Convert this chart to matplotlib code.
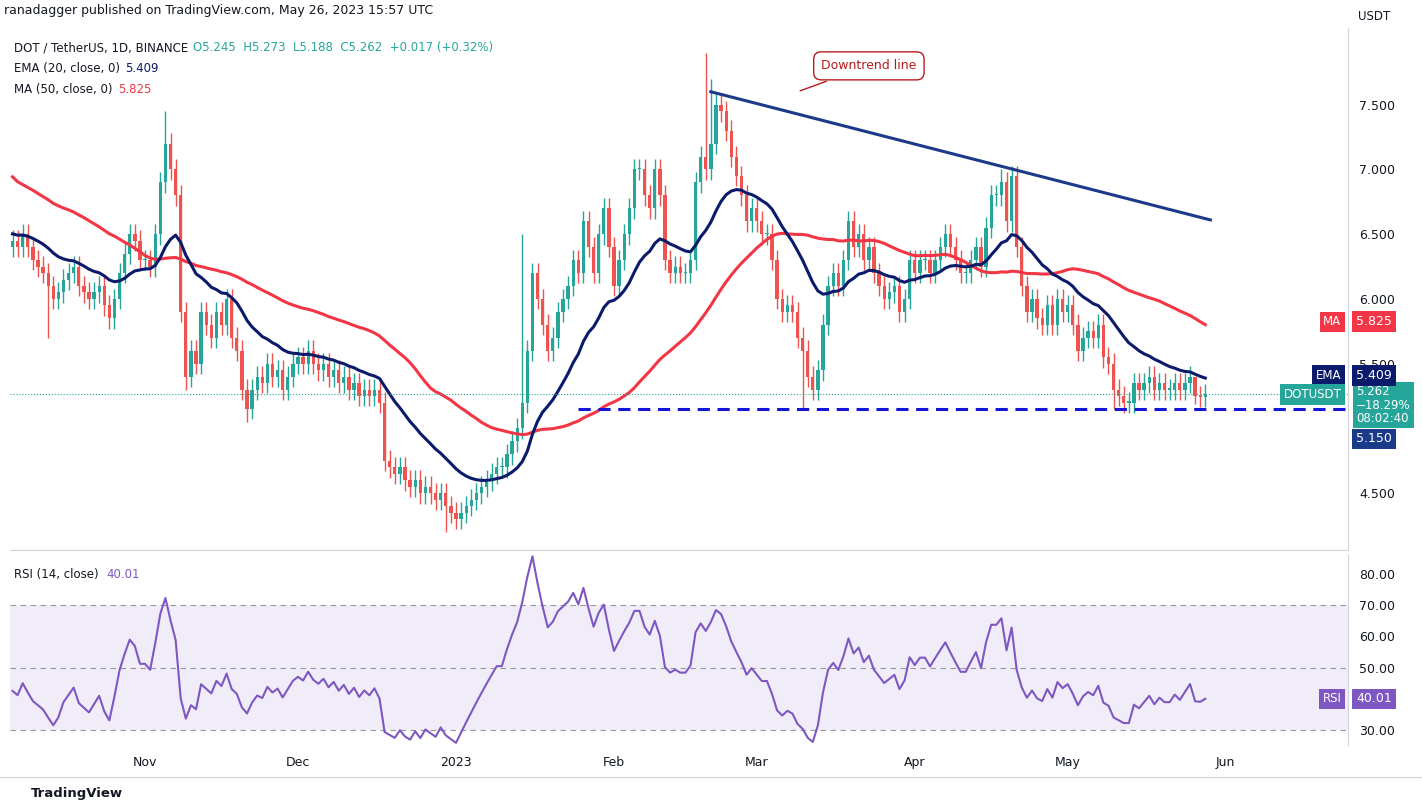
import numpy as np
import pandas as pd
import matplotlib
matplotlib.use("Agg")
import matplotlib.pyplot as plt
import matplotlib.dates as mdates

plt.rcParams['font.family'] = ['DejaVu Sans']

# closes before the visible window (only feed the moving averages / RSI)
pre_closes = [8.5, 8.3, 7.6, 7.5, 7.4, 7.5, 7.4, 7.3, 7.4, 7.0, 7.0, 6.9, 7.1, 7.2, 7.1,
              7.2, 7.3, 7.2, 7.3, 7.2, 6.9, 7.4, 7.5, 7.6, 7.7, 7.6, 7.8, 7.2, 7.0, 6.8,
              6.9, 6.8, 6.7, 6.5, 6.4, 6.2, 6.4, 6.3, 6.3, 6.2, 6.3, 6.4, 6.4, 6.4, 6.4,
              6.3, 6.3, 6.2, 6.5, 6.4]
# visible daily closes, Oct 6 2022 .. May 26 2023
closes = [
    6.45, 6.4, 6.5, 6.4, 6.3, 6.25, 6.2, 6.1, 6.0, 6.05, 6.15, 6.2, 6.25, 6.1, 6.05, 6.0,
    6.05, 6.1, 5.95, 5.85, 6.0, 6.2, 6.35, 6.5, 6.45, 6.3,
    6.3, 6.25, 6.5, 6.9, 7.2, 7.0, 6.8, 5.9, 5.4, 5.6, 5.5, 5.9, 5.8, 5.7, 5.9, 5.8, 6.0,
    5.7, 5.6, 5.3, 5.15, 5.3, 5.4, 5.35, 5.5, 5.4, 5.45, 5.3, 5.4, 5.5, 5.55, 5.5,
    5.6, 5.5, 5.45, 5.5, 5.4, 5.45, 5.35, 5.4, 5.3, 5.35, 5.25, 5.3, 5.25, 5.3, 5.2, 4.75,
    4.7, 4.65, 4.7, 4.6, 4.55, 4.6, 4.5, 4.55, 4.5, 4.45, 4.5, 4.4, 4.35, 4.3, 4.35,
    4.4, 4.45, 4.5, 4.55, 4.6, 4.65, 4.7, 4.7, 4.8, 4.9, 5.0, 5.2, 5.6, 6.2, 6.0, 5.8,
    5.6, 5.7, 5.9, 6.0, 6.1, 6.3, 6.2, 6.6, 6.4, 6.2, 6.5, 6.7, 6.4, 6.1, 6.3,
    6.5, 6.7, 7.0, 7.0, 6.8, 6.7, 7.0, 6.8, 6.3, 6.2, 6.25, 6.2, 6.2, 6.3, 6.9, 7.1, 7.0,
    7.2, 7.5, 7.45, 7.3, 7.1, 6.95, 6.8, 6.6, 6.7, 6.6, 6.5,
    6.5, 6.3, 6.0, 5.9, 5.95, 5.9, 5.7, 5.6, 5.4, 5.3, 5.45, 5.8, 6.1, 6.2, 6.1, 6.3, 6.6,
    6.4, 6.5, 6.3, 6.4, 6.2, 6.1, 6.0, 6.05, 6.1, 5.9, 6.0, 6.3, 6.2, 6.3,
    6.3, 6.2, 6.3, 6.4, 6.5, 6.4, 6.3, 6.2, 6.2, 6.3, 6.4, 6.25, 6.55, 6.8, 6.8, 6.9, 6.6,
    6.95, 6.4, 6.1, 5.9, 6.0, 5.85, 5.8, 5.95, 5.8, 6.0, 5.9, 5.95, 5.8,
    5.6, 5.7, 5.75, 5.7, 5.8, 5.55, 5.5, 5.3, 5.25, 5.2, 5.2, 5.35, 5.3, 5.35, 5.4, 5.3,
    5.35, 5.3, 5.3, 5.35, 5.3, 5.35, 5.4, 5.25, 5.245, 5.262]
# notable wick extremes
wick_highs = {"2022-11-05": 7.45, "2023-02-19": 7.9, "2023-02-20": 7.7, "2023-04-18": 7.0,
              "2023-01-14": 6.5, "2023-05-26": 5.273}
wick_lows = {"2022-10-13": 5.7, "2022-11-09": 5.3, "2022-12-30": 4.2, "2023-03-10": 5.15,
             "2023-05-10": 5.15, "2023-05-26": 5.188, "2022-11-21": 5.05}
default_wick = 0.08

dates = pd.date_range("2022-10-06", periods=len(closes), freq="D")
all_c = pd.Series(pre_closes + closes)
ema20 = all_c.ewm(span=20, adjust=False).mean().values[len(pre_closes):]
ma50 = all_c.rolling(50, min_periods=1).mean().values[len(pre_closes):]
delta = all_c.diff()
gain = delta.clip(lower=0).ewm(alpha=1 / 14, adjust=False).mean()
loss = (-delta.clip(upper=0)).ewm(alpha=1 / 14, adjust=False).mean()
rsi = (100 - 100 / (1 + gain / loss)).values[len(pre_closes):]

opens = [pre_closes[-1]] + closes[:-1]
opens[-1] = 5.245

UP, DN = '#26a69a', '#ef5350'
fig = plt.figure(figsize=(14.22, 8.09), dpi=100)
ax = fig.add_axes([0.007, 0.32, 0.941, 0.645])
ax2 = fig.add_axes([0.007, 0.079, 0.941, 0.235], sharex=ax)

x = mdates.date2num(dates)
for xi, d, o, c in zip(x, dates, opens, closes):
    key = d.strftime("%Y-%m-%d")
    hi = wick_highs.get(key, max(o, c) + default_wick)
    lo = wick_lows.get(key, min(o, c) - default_wick)
    col = UP if c >= o else DN
    ax.vlines(xi, lo, hi, color=col, lw=1)
    ax.bar(xi, max(abs(c - o), 0.01), bottom=min(o, c), width=0.65, color=col)

ax.plot(x, ma50, color='#f23645', lw=2.2)
ax.plot(x, ema20, color='#0c1a6b', lw=2.2)

xmin = mdates.date2num(pd.Timestamp("2022-10-06")) - 0.5
xmax = mdates.date2num(pd.Timestamp("2023-06-25"))
ax.set_xlim(xmin, xmax)
ax.set_ylim(4.06, 8.09)

# support and downtrend lines
ax.plot([mdates.date2num(pd.Timestamp("2023-01-25")), xmax], [5.15, 5.15],
        color='#1515d8', lw=2.2, ls=(0, (4, 2.5)))
ax.plot(mdates.date2num(pd.to_datetime(["2023-02-20", "2023-05-29"])), [7.6, 6.61],
        color='#1c3a8a', lw=2.2)
ax.axhline(5.262, color=UP, lw=0.8, ls=':')
ax.annotate("Downtrend line", xy=(mdates.date2num(pd.Timestamp("2023-03-09")), 7.6),
            xytext=(mdates.date2num(pd.Timestamp("2023-03-23")), 7.8), fontsize=9,
            ha='center', va='center', color='#b71c1c',
            bbox=dict(boxstyle='round,pad=0.6', fc='white', ec='#b71c1c', lw=1),
            arrowprops=dict(arrowstyle='-', color='#b71c1c', lw=1))

yt = [4.5, 5.5, 6.0, 6.5, 7.0, 7.5]
ax.set_yticks(yt)
ax.set_yticklabels([f"{v:.3f}" for v in yt])
ax.yaxis.tick_right()
ax.tick_params(axis='y', length=0, labelsize=9, colors='#131722', pad=8)
ax.tick_params(axis='x', length=0, labelbottom=False)
for s in ax.spines.values():
    s.set_visible(False)
ax.spines['right'].set_visible(True)
ax.spines['right'].set_color('#d1d4dc')
ax.spines['bottom'].set_visible(True)
ax.spines['bottom'].set_color('#d1d4dc')

def tag(a, y, txt, fc):
    a.text(1.006, y, txt, transform=a.get_yaxis_transform(), fontsize=9, color='white',
           va='center', ha='left', zorder=10,
           bbox=dict(boxstyle='square,pad=0.3', fc=fc, ec='none'))

tag(ax, 5.825, "5.825", '#f23645')
tag(ax, 5.409, "5.409", '#0c1a6b')
ax.text(1.006, 5.18, "5.262\n−18.29%\n08:02:40", transform=ax.get_yaxis_transform(),
        fontsize=8.5, color='white', va='center', ha='left', linespacing=1.05,
        bbox=dict(boxstyle='square,pad=0.25', fc=UP, ec='none'))
tag(ax, 4.92, "5.150", '#1c3a8a')
for y, t, fc in [(5.825, "MA", '#f23645'), (5.409, "EMA", '#0c1a6b'), (5.262, "DOTUSDT", UP)]:
    ax.text(0.995, y, t, transform=ax.get_yaxis_transform(), fontsize=8.5, color='white',
            va='center', ha='right', bbox=dict(boxstyle='square,pad=0.3', fc=fc, ec='none'))

fig.text(0.003, 0.983, "ranadagger published on TradingView.com, May 26, 2023 15:57 UTC",
         fontsize=9, color='#131722')
ax.text(0.003, 0.975, "DOT / TetherUS, 1D, BINANCE", transform=ax.transAxes, fontsize=8.5,
        color='#131722', va='top')
ax.text(0.137, 0.975, "O5.245  H5.273  L5.188  C5.262  +0.017 (+0.32%)", transform=ax.transAxes,
        fontsize=8.5, color=UP, va='top')
ax.text(0.003, 0.935, "EMA (20, close, 0)", transform=ax.transAxes, fontsize=8.5, color='#131722', va='top')
ax.text(0.086, 0.935, "5.409", transform=ax.transAxes, fontsize=8.5, color='#0c1a6b', va='top')
ax.text(0.003, 0.895, "MA (50, close, 0)", transform=ax.transAxes, fontsize=8.5, color='#131722', va='top')
ax.text(0.081, 0.895, "5.825", transform=ax.transAxes, fontsize=8.5, color='#f23645', va='top')
fig.text(0.955, 0.975, "USDT", fontsize=8.5, color='#131722')

# RSI pane
ax2.axhspan(30, 70, color='#7e57c2', alpha=0.1, lw=0)
for lv in (30, 50, 70):
    ax2.axhline(lv, color='#9598a1', lw=0.8, ls=(0, (5, 4)))
ax2.plot(x, rsi, color='#7e57c2', lw=1.5)
ax2.set_ylim(25.2, 86)
ry = [30, 50, 60, 70, 80]
ax2.set_yticks(ry)
ax2.set_yticklabels([f"{v:.2f}" for v in ry])
ax2.yaxis.tick_right()
ax2.tick_params(axis='y', length=0, labelsize=9, colors='#131722', pad=8)
ax2.tick_params(axis='x', length=0, labelsize=9, colors='#131722', pad=8)
for s in ax2.spines.values():
    s.set_visible(False)
ax2.spines['right'].set_visible(True)
ax2.spines['right'].set_color('#d1d4dc')
ax2.text(0.003, 0.93, "RSI (14, close)", transform=ax2.transAxes, fontsize=8.5, color='#131722', va='top')
ax2.text(0.072, 0.93, f"{rsi[-1]:.2f}", transform=ax2.transAxes, fontsize=8.5, color='#7e57c2', va='top')
tag(ax2, rsi[-1], f"{rsi[-1]:.2f}", '#7e57c2')
ax2.text(0.995, rsi[-1], "RSI", transform=ax2.get_yaxis_transform(), fontsize=8.5, color='white',
         va='center', ha='right', bbox=dict(boxstyle='square,pad=0.3', fc='#7e57c2', ec='none'))

ticks = pd.to_datetime(["2022-11-01", "2022-12-01", "2023-01-01", "2023-02-01", "2023-03-01",
                        "2023-04-01", "2023-05-01", "2023-06-01"])
ax2.set_xticks(mdates.date2num(ticks))
ax2.set_xticklabels(["Nov", "Dec", "2023", "Feb", "Mar", "Apr", "May", "Jun"])
fig.text(0.022, 0.015, "TradingView", fontsize=9.5, color='#131722', fontweight='bold')
fig.add_artist(plt.Line2D([0, 1], [0.04, 0.04], color='#d1d4dc', lw=0.8))

fig.savefig("out.png", dpi=100)
